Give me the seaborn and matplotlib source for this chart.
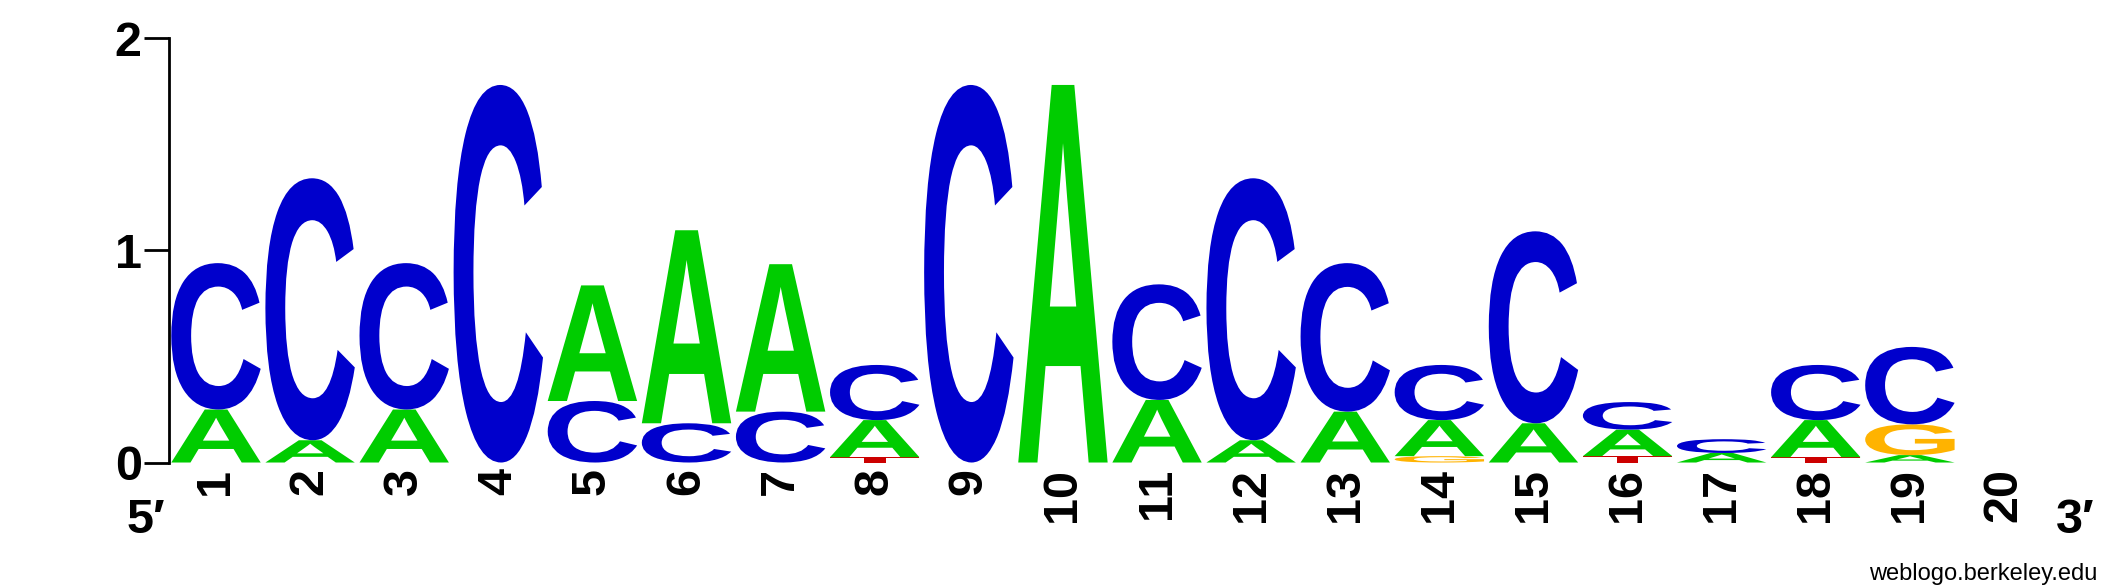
import numpy as np
import pandas as pd
import seaborn as sns
import matplotlib
matplotlib.use('Agg')
import matplotlib.pyplot as plt
from matplotlib.textpath import TextPath
from matplotlib.patches import PathPatch
from matplotlib.font_manager import FontProperties
from matplotlib.transforms import Affine2D

# Information content (bits) per position
positions = list(range(1, 21))
bits_A = [0.25, 0.105, 0.25, 0, 0.545, 0.91, 0.695, 0.175, 0, 1.78,
          0.295, 0.105, 0.24, 0.17, 0.185, 0.125, 0.045, 0.175, 0.035, 0]
bits_C = [0.69, 1.235, 0.69, 1.78, 0.29, 0.185, 0.24, 0.26, 1.78, 0,
          0.545, 1.235, 0.70, 0.26, 0.905, 0.13, 0.065, 0.26, 0.365, 0]
bits_G = [0, 0, 0, 0, 0, 0, 0, 0, 0, 0,
          0, 0, 0, 0.03, 0, 0, 0, 0, 0.145, 0]
bits_T = [0, 0, 0, 0, 0, 0, 0, 0.025, 0, 0,
          0, 0, 0, 0, 0, 0.03, 0, 0.025, 0, 0]

colors = {'A': '#00CC00', 'C': '#0000CC', 'G': '#FFB300', 'T': '#CC0000'}

df = pd.DataFrame({'A': bits_A, 'C': bits_C, 'G': bits_G, 'T': bits_T}, index=positions)

sns.set_style('ticks')
plt.rcParams['font.family'] = ['Liberation Sans', 'DejaVu Sans']
plt.rcParams['text.color'] = 'black'
plt.rcParams['axes.edgecolor'] = 'black'
plt.rcParams['xtick.color'] = 'black'
plt.rcParams['ytick.color'] = 'black'

fig = plt.figure(figsize=(21.25, 5.88), dpi=100)
ax = fig.add_axes([0.0795, 0.2134, 0.9652 - 0.0795, 0.9349 - 0.2134])

glyph_font = FontProperties(family='Liberation Sans', weight='bold')
glyphs = {}
for base in 'ACGT':
    p = TextPath((0, 0), base, size=1, prop=glyph_font)
    glyphs[base] = (p, p.get_extents())

width = 0.95
for pos, row in df.iterrows():
    bottom = 0.0
    # smallest letter at the bottom, largest on top
    for base, h in sorted(row.items(), key=lambda kv: kv[1]):
        if h <= 0:
            continue
        p, ext = glyphs[base]
        tr = (Affine2D()
              .translate(-ext.x0, -ext.y0)
              .scale(width / ext.width, h / ext.height)
              .translate(pos - width / 2, bottom))
        ax.add_patch(PathPatch(tr.transform_path(p), facecolor=colors[base],
                               edgecolor='none', lw=0))
        bottom += h

ax.set_xlim(0.5, 20.5)
ax.set_ylim(0, 2)

sns.despine(ax=ax, bottom=True)
ax.spines['left'].set_linewidth(2)
ax.spines['left'].set_color('black')
ax.spines['left'].set_bounds(0, 2)

ax.set_yticks([0, 1, 2])
ax.set_yticklabels(['0', '1', '2'], fontsize=35, fontweight='bold', color='black')
ax.tick_params(axis='y', length=18, width=2, pad=1.5, direction='out', color='black')

ax.set_xticks(positions)
ax.set_xticklabels([str(p) for p in positions], rotation=90, fontsize=35,
                   fontweight='bold', color='black')
ax.tick_params(axis='x', length=0, pad=4)

fig.text(0.0687, 0.1156, '5\u2032', fontsize=35, fontweight='bold',
         ha='center', va='center', color='black')
fig.text(0.9765, 0.1156, '3\u2032', fontsize=35, fontweight='bold',
         ha='center', va='center', color='black')
fig.text(0.987, 0.0136, 'weblogo.berkeley.edu', fontsize=17,
         ha='right', va='baseline', color='black')

fig.savefig('out.png', dpi=100)
